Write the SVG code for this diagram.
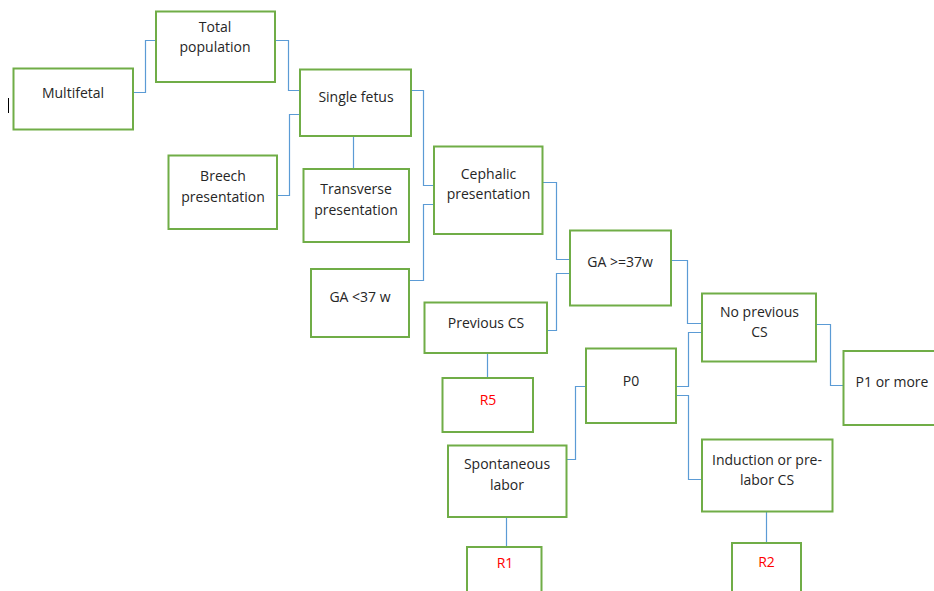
<svg xmlns="http://www.w3.org/2000/svg" width="934" height="591" viewBox="0 0 934 591">
<style>
.box{fill:#fff;stroke:#70AD47;stroke-width:2}
.c{fill:none;stroke:#5B9BD5;stroke-width:1.2}
text{font-family:"Open Sans","Liberation Sans",sans-serif;font-size:14px;fill:#262626;text-anchor:middle}
.r{fill:#FF0000}
</style>
<rect width="934" height="591" fill="#fff"/>
<line x1="8.5" y1="98" x2="8.5" y2="113" stroke="#000" stroke-width="1"/>
<g id="connectors">
<polyline class="c" points="133,92.5 145.5,92.5 145.5,40.5 156,40.5"/>
<polyline class="c" points="275,40.5 288.5,40.5 288.5,90.5 300,90.5"/>
<polyline class="c" points="277,195.5 289.5,195.5 289.5,114.5 300,114.5"/>
<polyline class="c" points="353.5,136 353.5,169"/>
<polyline class="c" points="411,90.5 423.5,90.5 423.5,185.5 434,185.5"/>
<polyline class="c" points="409,280.5 423.5,280.5 423.5,204.5 434,204.5"/>
<polyline class="c" points="543,182.5 556.5,182.5 556.5,259.5 570,259.5"/>
<polyline class="c" points="547,330.5 556.5,330.5 556.5,273.5 570,273.5"/>
<polyline class="c" points="487.5,353 487.5,378"/>
<polyline class="c" points="671,260.5 687.5,260.5 687.5,323.5 702,323.5"/>
<polyline class="c" points="816,324.5 830.5,324.5 830.5,385.5 843,385.5"/>
<polyline class="c" points="676,386.5 688.5,386.5 688.5,332.5 702,332.5"/>
<polyline class="c" points="676,395.5 688.5,395.5 688.5,479.5 702,479.5"/>
<polyline class="c" points="567,459.5 575.5,459.5 575.5,386.5 586,386.5"/>
<polyline class="c" points="506.5,517 506.5,547"/>
<polyline class="c" points="766.5,512 766.5,543"/>
</g>
<g id="multifetal"><rect class="box" x="13.5" y="68.5" width="119.5" height="61"/><text x="73" y="98">Multifetal</text></g>
<g id="total"><rect class="box" x="156" y="11.5" width="119" height="70.5"/><text x="215" y="32">Total</text><text x="215" y="52">population</text></g>
<g id="single"><rect class="box" x="300" y="69.5" width="111" height="66.5"/><text x="356" y="101.5">Single fetus</text></g>
<g id="breech"><rect class="box" x="168.5" y="155.5" width="108.5" height="73.5"/><text x="223" y="181">Breech</text><text x="223" y="202">presentation</text></g>
<g id="transverse"><rect class="box" x="303.5" y="169" width="105.5" height="73"/><text x="356" y="194">Transverse</text><text x="356" y="215">presentation</text></g>
<g id="cephalic"><rect class="box" x="434" y="146.5" width="108.5" height="87.5"/><text x="488.5" y="179">Cephalic</text><text x="488.5" y="199">presentation</text></g>
<g id="ga37less"><rect class="box" x="311" y="269" width="98" height="68"/><text x="360" y="302">GA &lt;37 w</text></g>
<g id="ga37more"><rect class="box" x="570" y="230.5" width="101" height="75"/><text x="620" y="267">GA &gt;=37w</text></g>
<g id="prevcs"><rect class="box" x="424.5" y="302.5" width="122.5" height="50.5"/><text x="486" y="328">Previous CS</text></g>
<g id="r5"><rect class="box" x="442.5" y="378" width="90.5" height="54"/><text class="r" x="488" y="405">R5</text></g>
<g id="noprev"><rect class="box" x="702" y="293.5" width="114" height="68"/><text x="759.5" y="316.5">No previous</text><text x="759.5" y="336.5">CS</text></g>
<g id="p1"><rect class="box" x="843.5" y="351" width="100" height="74"/><text x="892" y="387">P1 or more</text></g>
<g id="p0"><rect class="box" x="586" y="348.5" width="90" height="74.5"/><text x="631" y="386">P0</text></g>
<g id="spont"><rect class="box" x="448" y="445.5" width="118.5" height="71.5"/><text x="507" y="469">Spontaneous</text><text x="507" y="490">labor</text></g>
<g id="induction"><rect class="box" x="702" y="439.5" width="130.5" height="72"/><text x="767" y="465">Induction or pre-</text><text x="767" y="485">labor CS</text></g>
<g id="r1"><rect class="box" x="467" y="547" width="74.5" height="60"/><text class="r" x="505" y="568">R1</text></g>
<g id="r2"><rect class="box" x="732" y="543" width="69" height="60"/><text class="r" x="766.5" y="566.5">R2</text></g>
</svg>
